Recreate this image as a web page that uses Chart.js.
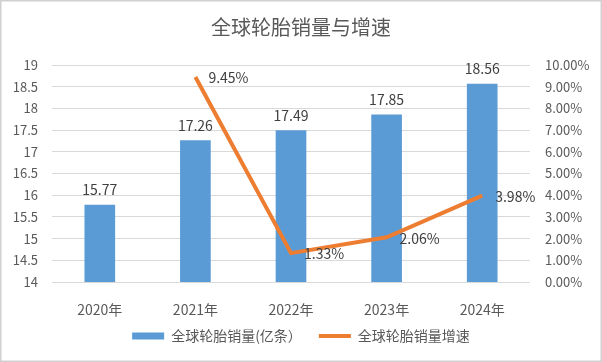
<!DOCTYPE html>
<html lang="zh">
<head>
  <meta charset="UTF-8" />
  <title>全球轮胎销量与增速</title>
  <script src="https://cdn.jsdelivr.net/npm/chart.js"></script>
  <style>
    html, body { margin: 0; padding: 0; background: #fff; }
    #wrap { width: 602px; height: 362px; }
  </style>
</head>
<body>
  <div id="wrap"><canvas id="tyreChart" width="602" height="362"></canvas></div>

  <script>
    // 数据
    const years = ["2020年", "2021年", "2022年", "2023年", "2024年"];
    const salesVolume = [15.77, 17.26, 17.49, 17.85, 18.56];   // 亿条
    const growthRate = [null, 9.45, 1.33, 2.06, 3.98];         // %
    const leftTicks = [14, 14.5, 15, 15.5, 16, 16.5, 17, 17.5, 18, 18.5, 19];
    const rightTicks = [0, 1, 2, 3, 4, 5, 6, 7, 8, 9, 10];

    const textColor = "#595959";
    const fontFamily = "'Noto Sans CJK SC', 'Liberation Sans', sans-serif";

    // 数据标签
    const valueLabels = {
      id: "valueLabels",
      afterDatasetsDraw(chart) {
        const ctx = chart.ctx;
        ctx.save();
        ctx.font = "14px " + fontFamily;
        ctx.fillStyle = "#404040";
        ctx.textBaseline = "middle";
        chart.data.datasets.forEach((ds, i) => {
          const meta = chart.getDatasetMeta(i);
          meta.data.forEach((el, j) => {
            const v = ds.data[j];
            if (v === null) return;
            if (ds.type === "bar") {
              ctx.textAlign = "center";
              ctx.fillText(v.toFixed(2), el.x, el.y - 15);
            } else {
              ctx.textAlign = "left";
              ctx.fillText(v.toFixed(2) + "%", el.x + 13, el.y + 1);
            }
          });
        });
        ctx.restore();
      }
    };

    // 外框
    const frame = {
      id: "frame",
      afterDraw(chart) {
        const ctx = chart.ctx;
        ctx.save();
        ctx.strokeStyle = "#d0d0d0";
        ctx.lineWidth = 1.5;
        ctx.strokeRect(0.75, 0.75, chart.width - 1.5, chart.height - 1.5);
        ctx.restore();
      }
    };

    new Chart(document.getElementById("tyreChart"), {
      data: {
        labels: years,
        datasets: [
          {
            type: "line",
            label: "全球轮胎销量增速",
            data: growthRate,
            yAxisID: "y1",
            borderColor: "#ED7D31",
            backgroundColor: "#ED7D31",
            borderWidth: 4,
            pointRadius: 0,
            tension: 0,
            pointStyle: "line",
            order: 0
          },
          {
            type: "bar",
            label: "全球轮胎销量(亿条）",
            data: salesVolume,
            yAxisID: "y",
            backgroundColor: "#5B9BD5",
            barThickness: 30,
            pointStyle: "rect",
            order: 1
          }
        ]
      },
      options: {
        responsive: false,
        animation: false,
        layout: { padding: { left: 0, right: 0, top: 0, bottom: 9 } },
        plugins: {
          title: {
            display: true,
            text: "全球轮胎销量与增速",
            color: textColor,
            font: { family: fontFamily, size: 20, weight: "normal" },
            padding: { top: 15, bottom: 26 }
          },
          legend: {
            position: "bottom",
            reverse: true,
            labels: {
              color: textColor,
              font: { family: fontFamily, size: 14 },
              usePointStyle: true,
              pointStyleWidth: 32,
              boxHeight: 7,
              padding: 10,
              generateLabels(chart) {
                const items = Chart.defaults.plugins.legend.labels.generateLabels(chart);
                items.forEach(it => {
                  if (it.datasetIndex === 1) it.text = it.text + "\u3000";
                });
                return items;
              }
            }
          },
          tooltip: { enabled: false }
        },
        scales: {
          x: {
            grid: { display: false },
            border: { display: false },
            ticks: { color: textColor, font: { family: fontFamily, size: 14 }, padding: 11 },
            afterFit(scale) { scale.height = 37; }
          },
          y: {
            position: "left",
            min: 14,
            max: 19,
            afterBuildTicks(scale) { scale.ticks = leftTicks.map(v => ({ value: v })); },
            grid: { color: "#d9d9d9", drawTicks: false },
            border: { display: false },
            ticks: {
              color: textColor,
              font: { family: fontFamily, size: 13 },
              padding: 14,
              callback: v => String(v)
            },
            afterFit(scale) { scale.width = 52; }
          },
          y1: {
            position: "right",
            min: 0,
            max: 10,
            afterBuildTicks(scale) { scale.ticks = rightTicks.map(v => ({ value: v })); },
            grid: { display: false, drawTicks: false },
            border: { display: false },
            ticks: {
              color: textColor,
              font: { family: fontFamily, size: 13 },
              padding: 15,
              callback: v => v.toFixed(2) + "%"
            },
            afterFit(scale) { scale.width = 72; }
          }
        }
      },
      plugins: [valueLabels, frame]
    });
  </script>
</body>
</html>
